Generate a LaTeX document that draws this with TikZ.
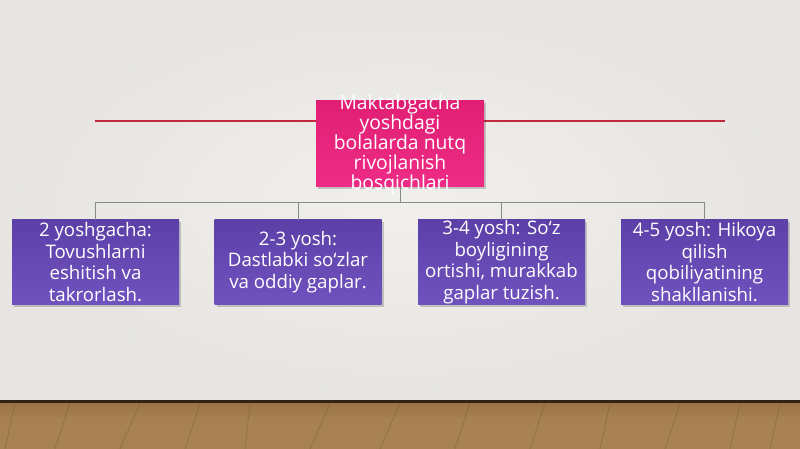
\documentclass[tikz,border=0pt]{standalone}
\usepackage{fontspec}
\setmainfont{Open Sans}
\begin{document}
\begin{tikzpicture}[x=0.75pt,y=-0.75pt,
  topbox/.style={draw=none,top color=pinkT,bottom color=pinkB,minimum width=126pt,minimum height=64.5pt,inner sep=0pt},
  stagebox/.style={draw=none,top color=purpT,bottom color=purpB,minimum width=125.25pt,minimum height=63pt,inner sep=0pt},
  toptext/.style={text=white,align=center,inner sep=0pt,font=\fontsize{14.5}{15}\selectfont},
  stagetext/.style={text=white,align=center,inner sep=0pt,font=\fontsize{14}{16.2}\selectfont},
  conn/.style={draw=connGrey,line width=0.6pt},
  shadowbox/.style={fill=black,opacity=0.18}]
\definecolor{wall}{HTML}{E6E5E2}
\definecolor{wallc}{HTML}{F0EFEC}
\definecolor{floorA}{HTML}{A88152}
\definecolor{floorB}{HTML}{8A6435}
\definecolor{pinkT}{HTML}{E01F74}
\definecolor{pinkB}{HTML}{EE2C86}
\definecolor{purpT}{HTML}{5C40A8}
\definecolor{purpB}{HTML}{7052BE}
\definecolor{redline}{HTML}{C3283D}
\definecolor{connGrey}{HTML}{8A8A8A}
% background
\useasboundingbox (0,0) rectangle (800,449);
\shade[inner color=wallc,outer color=wall] (0,0) rectangle (800,401);
\fill[floorA] (0,401) rectangle (800,449);
\shade[top color=floorB,bottom color=floorA,opacity=0.5] (0,401) rectangle (800,418);
\fill[black!65!floorB] (0,400) rectangle (800,403);
\foreach \xa/\xb in {15/5,70/55,140/120,200/185,250/245,330/310,400/380,470/455,545/530,610/600,680/665,740/730,780/770}
  \draw[floorB!80!black,opacity=0.35,line width=0.6pt] (\xa,403) -- (\xb,449);
% red line
\draw[redline,line width=0.9pt] (95,121) -- (725,121);
% shadows
\fill[shadowbox] (318,103) rectangle (486,189);
\foreach \xl in {12,215,418,621}
  \fill[shadowbox] (\xl+2,222) rectangle (\xl+169,307);
% top box
\node[topbox] (top) at (400,144) {};
\node[toptext] (toptxt) at (top.center) {Maktabgacha\\yoshdagi\\bolalarda nutq\\rivojlanish\\bosqichlari};
% stage boxes
\node[stagebox] (s1) at (95.5,262) {};
\node[stagebox] (s2) at (298,262) {};
\node[stagebox] (s3) at (501.5,262) {};
\node[stagebox] (s4) at (704.5,262) {};
\node[stagetext] (t1) at (s1.center) {2 yoshgacha:\\Tovushlarni\\eshitish va\\takrorlash.};
\node[stagetext] (t2) at (s2.center) {2-3 yosh:\\Dastlabki so‘zlar\\va oddiy gaplar.};
\node[stagetext] (t3) at (s3.center) {3-4 yosh: So‘z\\boyligining\\ortishi, murakkab\\gaplar tuzish.};
\node[stagetext] (t4) at (s4.center) {4-5 yosh: Hikoya\\qilish\\qobiliyatining\\shakllanishi.};
% connectors
\coordinate (bus) at (400,202);
\draw[conn] (top.south) -- (bus);
\draw[conn] (s1.north) |- (bus);
\draw[conn] (s4.north) |- (bus);
\draw[conn] (s2.north) -- (s2.north |- bus);
\draw[conn] (s3.north) -- (s3.north |- bus);
\end{tikzpicture}
\end{document}
